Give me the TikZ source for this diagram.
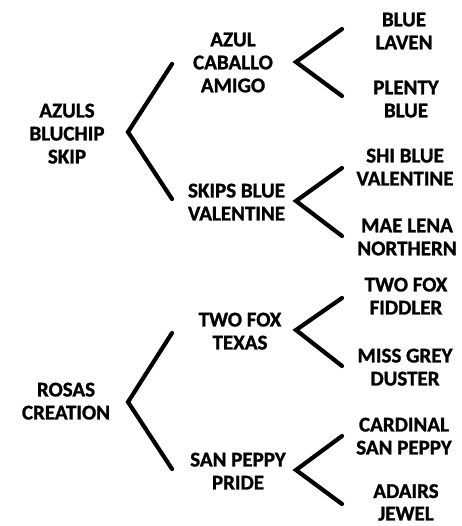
\documentclass[tikz,border=0pt]{standalone}
\usepackage{fontspec}
\setmainfont{Carlito}[BoldFeatures={FakeBold=1.2}]
\begin{document}
\begin{tikzpicture}[x=1pt,y=-1pt,
  lbl/.style={align=center,inner sep=0pt,anchor=north,font=\fontsize{21}{23}\selectfont\bfseries},
  brk/.style={line width=4.2pt,line cap=round,line join=miter}]
\useasboundingbox (0,0) rectangle (461,526);
% labels (anchored at top of first line)
\node[lbl] (n1) at (67,103.5) {AZULS\\BLUCHIP\\SKIP};
\node[lbl] (n2) at (233,32.5) {AZUL\\CABALLO\\AMIGO};
\node[lbl] (n3) at (236.5,183.5) {SKIPS BLUE\\VALENTINE};
\node[lbl] (n4) at (404,12.5) {BLUE\\LAVEN};
\node[lbl] (n5) at (406,80.5) {PLENTY\\BLUE};
\node[lbl] (n6) at (405,148.5) {SHI BLUE\\VALENTINE};
\node[lbl] (n7) at (407,218.5) {MAE LENA\\NORTHERN};
\node[lbl] (n8) at (66,382.5) {ROSAS\\CREATION};
\node[lbl] (n9) at (240,312.5) {TWO FOX\\TEXAS};
\node[lbl] (n10) at (238,452.5) {SAN PEPPY\\PRIDE};
\node[lbl] (n11) at (406,277.5) {TWO FOX\\FIDDLER};
\node[lbl] (n12) at (405,348.5) {MISS GREY\\DUSTER};
\node[lbl] (n13) at (404,417.5) {CARDINAL\\SAN PEPPY};
\node[lbl] (n14) at (406,484) {ADAIRS\\[-0.5pt]JEWEL};
% bracket points
\coordinate (b1) at (128,132); \coordinate (b1u) at (172,64); \coordinate (b1d) at (172,199);
\coordinate (b2) at (296,62);  \coordinate (b2u) at (342,29); \coordinate (b2d) at (342,96);
\coordinate (b3) at (296,201); \coordinate (b3u) at (342,168); \coordinate (b3d) at (342,236);
\coordinate (b4) at (128,402); \coordinate (b4u) at (172,333); \coordinate (b4d) at (172,469);
\coordinate (b5) at (296,330); \coordinate (b5u) at (342,298); \coordinate (b5d) at (342,366);
\coordinate (b6) at (296,470); \coordinate (b6u) at (342,436); \coordinate (b6d) at (342,504);
\foreach \i in {1,...,6} {\draw[brk] (b\i u) -- (b\i) -- (b\i d);}
\end{tikzpicture}
\end{document}
